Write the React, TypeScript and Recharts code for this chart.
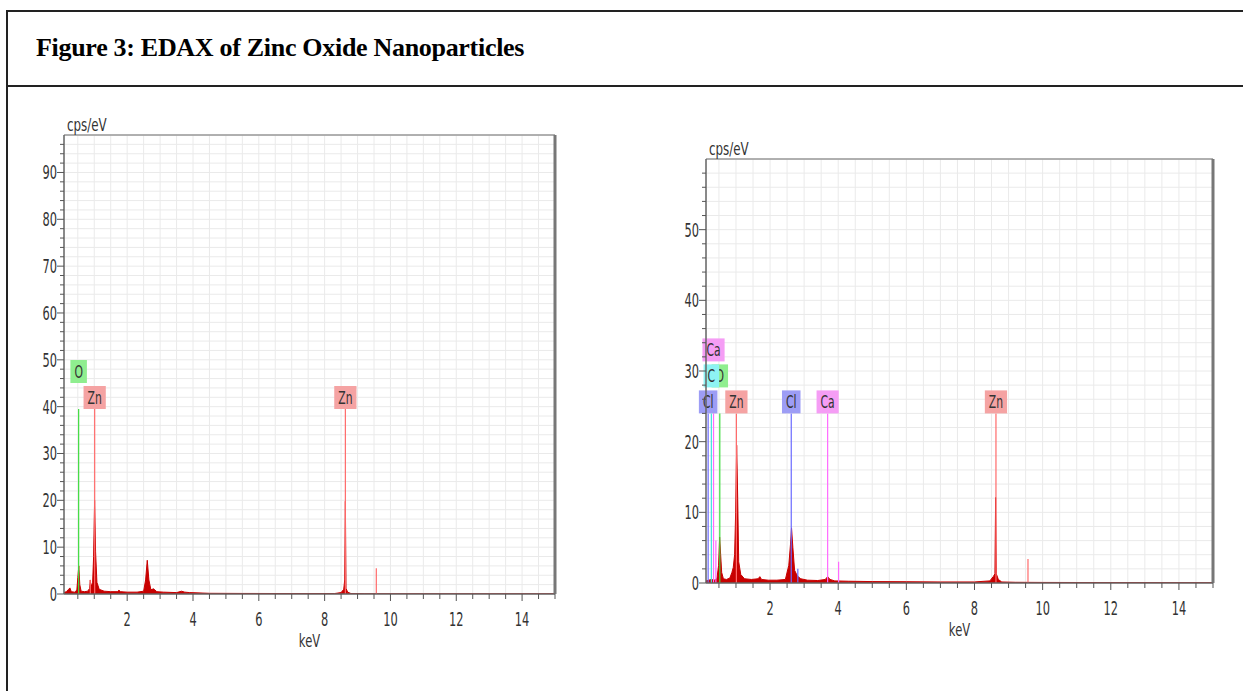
import React from "react";
import {
  ComposedChart,
  Area,
  XAxis,
  YAxis,
  CartesianGrid,
  ReferenceLine,
} from "recharts";

// tick values
const xTicks = [0.5, 1, 1.5, 2, 2.5, 3, 3.5, 4, 4.5, 5, 5.5, 6, 6.5, 7, 7.5, 8, 8.5, 9, 9.5, 10, 10.5, 11, 11.5, 12, 12.5, 13, 13.5, 14, 14.5, 15];
const xTickLabels = [2, 4, 6, 8, 10, 12, 14];
const leftYTicks = [0, 2, 4, 6, 8, 10, 12, 14, 16, 18, 20, 22, 24, 26, 28, 30, 32, 34, 36, 38, 40, 42, 44, 46, 48, 50, 52, 54, 56, 58, 60, 62, 64, 66, 68, 70, 72, 74, 76, 78, 80, 82, 84, 86, 88, 90, 92, 94, 96];
const leftYTickLabels = [0, 10, 20, 30, 40, 50, 60, 70, 80, 90];
const rightYTicks = [0, 2, 4, 6, 8, 10, 12, 14, 16, 18, 20, 22, 24, 26, 28, 30, 32, 34, 36, 38, 40, 42, 44, 46, 48, 50, 52, 54, 56, 58];
const rightYTickLabels = [0, 10, 20, 30, 40, 50];

// left spectrum (keV, cps/eV)
const leftEnergy = [0.08, 0.15, 0.22, 0.26, 0.3, 0.4, 0.47, 0.5, 0.53, 0.56, 0.6, 0.7, 0.8, 0.86, 0.88, 0.9, 0.95, 0.98, 1.01, 1.04, 1.08, 1.15, 1.3, 1.5, 1.7, 1.75, 1.8, 2.0, 2.3, 2.5, 2.56, 2.61, 2.66, 2.72, 2.8, 2.9, 3.1, 3.5, 3.65, 3.75, 3.9, 4.5, 5.5, 7.0, 8.3, 8.5, 8.58, 8.61, 8.63, 8.65, 8.7, 8.8, 9.2, 11, 13, 15];
const leftCounts = [0.3, 0.5, 1.0, 1.3, 0.5, 0.4, 0.8, 3.5, 6.0, 2.0, 0.6, 0.5, 0.6, 1.2, 3.0, 1.5, 2.5, 8.0, 20, 9.0, 2.5, 1.0, 0.6, 0.5, 0.5, 0.8, 0.5, 0.4, 0.4, 0.6, 3.0, 7.2, 3.0, 0.9, 1.1, 0.5, 0.4, 0.3, 0.6, 0.4, 0.3, 0.15, 0.12, 0.1, 0.1, 0.3, 1.0, 3.0, 19.8, 1.2, 0.4, 0.1, 0.06, 0.05, 0.05, 0.05];

// right spectrum (keV, cps/eV)
const rightEnergy = [0.12, 0.2, 0.28, 0.36, 0.44, 0.49, 0.52, 0.55, 0.58, 0.63, 0.72, 0.82, 0.88, 0.92, 0.96, 0.99, 1.02, 1.05, 1.08, 1.14, 1.25, 1.45, 1.65, 1.7, 1.75, 1.95, 2.2, 2.45, 2.55, 2.6, 2.63, 2.67, 2.72, 2.8, 2.9, 3.1, 3.4, 3.62, 3.69, 3.76, 3.9, 4.3, 5.0, 6.0, 7.0, 8.0, 8.45, 8.55, 8.6, 8.62, 8.64, 8.7, 8.8, 9.2, 10, 12, 15];
const rightCounts = [0.3, 0.4, 0.5, 0.4, 0.6, 2.5, 6.5, 4.0, 1.5, 0.6, 0.5, 0.7, 1.5, 2.2, 4.0, 10, 19.5, 12, 3.0, 1.2, 0.6, 0.5, 0.6, 0.9, 0.5, 0.4, 0.4, 0.5, 2.5, 5.5, 7.8, 5.0, 1.8, 1.0, 0.6, 0.4, 0.35, 0.5, 0.9, 0.5, 0.3, 0.25, 0.2, 0.18, 0.15, 0.15, 0.3, 0.9, 1.3, 12.1, 1.3, 0.5, 0.15, 0.1, 0.08, 0.06, 0.05];

// element lines
const leftMarkerElement = ["Zn", "Zn", "O", "Zn", "Zn"];
const leftMarkerEnergy = [0.88, 9.57, 0.525, 1.012, 8.63];
const leftMarkerHeight = [3.0, 5.5, 39.5, 39.5, 39.5];
const leftMarkerLabel = ["", "", "O", "Zn", "Zn"];

const rightMarkerElement = ["Ca", "Cl", "Ca", "Zn", "O", "C", "Ca", "Cl", "Zn", "Cl", "Ca", "Zn"];
const rightMarkerEnergy = [0.41, 2.815, 4.012, 9.57, 0.525, 0.277, 0.341, 0.183, 1.012, 2.622, 3.69, 8.63];
const rightMarkerHeight = [6.0, 2.0, 3.0, 3.4, 24, 24, 24, 24, 24, 24, 24, 24];
const rightMarkerLabel = ["", "", "", "", "O", "C", "Ca", "Cl", "Zn", "Cl", "Ca", "Zn"];

// label stacking (layout only)
const LEFT_LABEL_ROWS = [0, 0, 1, 0, 0];
const RIGHT_LABEL_ROWS = [0, 0, 0, 0, 1, 1, 2, 0, 0, 0, 0, 0];

const ELEMENT_STYLE: Record<string, { line: string; box: string }> = {
  Zn: { line: "#ff6a6a", box: "#f5a3a3" },
  O: { line: "#3fdc3f", box: "#8fee8f" },
  Cl: { line: "#6a6aff", box: "#9d9df5" },
  Ca: { line: "#ff6aff", box: "#f59df5" },
  C: { line: "#3fe0e0", box: "#8ef3f3" },
};

const FONT = "'DejaVu Sans', sans-serif";
const TEXT = "#333";
const SQUISH = 0.6;
const CHAR_EM: Record<string, number> = { Z: 0.685, n: 0.634, O: 0.787, C: 0.698, l: 0.278, a: 0.613 };

function labelWidth(text: string) {
  let em = 0;
  for (const ch of text) em += CHAR_EM[ch] ?? 0.6;
  return em * 18 * SQUISH + 8;
}

function XTick(props: any) {
  const { x, y, payload } = props;
  const v = payload.value;
  const labelled = xTickLabels.includes(v);
  return (
    <g>
      <line x1={x} x2={x} y1={y} y2={y + (labelled ? 7 : 5)} stroke="#555" />
      {labelled && (
        <text
          transform={`translate(${x},${y + 32}) scale(${SQUISH},1)`}
          textAnchor="middle"
          fontSize={19}
          fontFamily={FONT}
          fill={TEXT}
        >
          {v}
        </text>
      )}
    </g>
  );
}

const makeYTick = (labels: number[]) =>
  function YTick(props: any) {
    const { x, y, payload } = props;
    const v = payload.value;
    const labelled = labels.includes(v);
    return (
      <g>
        <line x1={x - (labelled ? 7 : 4)} x2={x} y1={y} y2={y} stroke="#555" />
        {labelled && (
          <text
            transform={`translate(${x - 7},${y + 7}) scale(${SQUISH},1)`}
            textAnchor="end"
            fontSize={19}
            fontFamily={FONT}
            fill={TEXT}
          >
            {v}
          </text>
        )}
      </g>
    );
  };

const markerBox = (text: string, fill: string, row: number) =>
  function MarkerBox(props: any) {
    const vb = props.viewBox ?? {};
    const cx = (vb.x ?? 0) + (vb.width ?? 0) / 2;
    const top = vb.y ?? 0;
    const w = labelWidth(text);
    const h = 23;
    const y0 = top - h - row * 26;
    return (
      <g>
        <rect x={cx - w / 2} y={y0} width={w} height={h} fill={fill} />
        <text
          transform={`translate(${cx},${y0 + h - 5}) scale(${SQUISH},1)`}
          textAnchor="middle"
          fontSize={18}
          fontFamily={FONT}
          fill={TEXT}
        >
          {text}
        </text>
      </g>
    );
  };

const unitLabel = (props: any) => {
  const vb = props.viewBox ?? {};
  return (
    <text
      transform={`translate(${(vb.x ?? 0) + (vb.width ?? 0) + 3},${(vb.y ?? 0) - 4}) scale(0.7,1)`}
      fontSize={17}
      fontFamily={FONT}
      fill={TEXT}
    >
      cps/eV
    </text>
  );
};

const kevLabel = (props: any) => {
  const vb = props.viewBox ?? {};
  return (
    <text
      transform={`translate(${(vb.x ?? 0) + (vb.width ?? 0) / 2},${(vb.y ?? 0) + 53}) scale(0.68,1)`}
      textAnchor="middle"
      fontSize={17}
      fontFamily={FONT}
      fill={TEXT}
    >
      keV
    </text>
  );
};

interface SpectrumProps {
  energy: number[];
  counts: number[];
  markerElement: string[];
  markerEnergy: number[];
  markerHeight: number[];
  markerLabel: string[];
  labelRows: number[];
  xMin: number;
  yMax: number;
  yTicks: number[];
  yTickLabels: number[];
  width: number;
  height: number;
  margin: { top: number; right: number; left: number; bottom: number };
}

function Spectrum(p: SpectrumProps) {
  const data = p.energy.map((e, i) => ({ keV: e, cps: p.counts[i] }));
  const YTick = makeYTick(p.yTickLabels);
  return (
    <ComposedChart width={p.width} height={p.height} data={data} margin={p.margin}>
      <CartesianGrid stroke="#eaeaea" />
      <XAxis
        dataKey="keV"
        type="number"
        domain={[p.xMin, 15]}
        ticks={xTicks}
        interval={0}
        allowDataOverflow
        height={70}
        tickSize={0}
        tickMargin={0}
        tickLine={false}
        tick={<XTick />}
        axisLine={{ stroke: "#666", strokeWidth: 1.5 }}
        label={kevLabel}
      />
      <YAxis
        type="number"
        domain={[0, p.yMax]}
        ticks={p.yTicks}
        interval={0}
        allowDataOverflow
        width={50}
        tickSize={0}
        tickMargin={0}
        tickLine={false}
        tick={<YTick />}
        axisLine={{ stroke: "#666", strokeWidth: 1.5 }}
        label={unitLabel}
      />
      <Area
        dataKey="cps"
        type="linear"
        stroke="#c80000"
        strokeWidth={1}
        fill="#c80000"
        fillOpacity={1}
        dot={false}
        activeDot={false}
        isAnimationActive={false}
      />
      <ReferenceLine y={p.yMax} stroke="#999" strokeWidth={1.5} />
      <ReferenceLine x={15} stroke="#777" strokeWidth={3} />
      {p.markerEnergy.map((e, i) => {
        const st = ELEMENT_STYLE[p.markerElement[i]];
        const text = p.markerLabel[i];
        return (
          <ReferenceLine
            key={`m-${i}`}
            segment={[
              { x: e, y: 0 },
              { x: e, y: p.markerHeight[i] },
            ]}
            stroke={st.line}
            strokeWidth={1.2}
            label={text ? markerBox(text, st.box, p.labelRows[i]) : undefined}
          />
        );
      })}
    </ComposedChart>
  );
}

export default function App() {
  return (
    <div
      style={{
        position: "fixed",
        left: 0,
        top: 0,
        width: 1243,
        height: 691,
        background: "#fff",
        overflow: "hidden",
      }}
    >
      <svg width={1243} height={691} style={{ position: "absolute", left: 0, top: 0 }}>
        <line x1={7} y1={11} x2={1243} y2={11} stroke="#222" strokeWidth={2} />
        <line x1={7} y1={86} x2={1243} y2={86} stroke="#222" strokeWidth={2} />
        <line x1={7} y1={10} x2={7} y2={691} stroke="#222" strokeWidth={2} />
        <text
          x={36}
          y={56}
          fontFamily="'Liberation Serif', 'Times New Roman', serif"
          fontWeight={700}
          fontSize={26}
          letterSpacing={-0.3}
          fill="#000"
        >
          Figure 3: EDAX of Zinc Oxide Nanoparticles
        </text>
      </svg>
      <div style={{ position: "absolute", left: 0, top: 90 }}>
        <Spectrum
          energy={leftEnergy}
          counts={leftCounts}
          markerElement={leftMarkerElement}
          markerEnergy={leftMarkerEnergy}
          markerHeight={leftMarkerHeight}
          markerLabel={leftMarkerLabel}
          labelRows={LEFT_LABEL_ROWS}
          xMin={0.08}
          yMax={98}
          yTicks={leftYTicks}
          yTickLabels={leftYTickLabels}
          width={600}
          height={574}
          margin={{ top: 45, right: 45, left: 14, bottom: 0 }}
        />
      </div>
      <div style={{ position: "absolute", left: 650, top: 90 }}>
        <Spectrum
          energy={rightEnergy}
          counts={rightCounts}
          markerElement={rightMarkerElement}
          markerEnergy={rightMarkerEnergy}
          markerHeight={rightMarkerHeight}
          markerLabel={rightMarkerLabel}
          labelRows={RIGHT_LABEL_ROWS}
          xMin={0.12}
          yMax={60}
          yTicks={rightYTicks}
          yTickLabels={rightYTickLabels}
          width={600}
          height={563}
          margin={{ top: 69, right: 37, left: 6, bottom: 0 }}
        />
      </div>
    </div>
  );
}
